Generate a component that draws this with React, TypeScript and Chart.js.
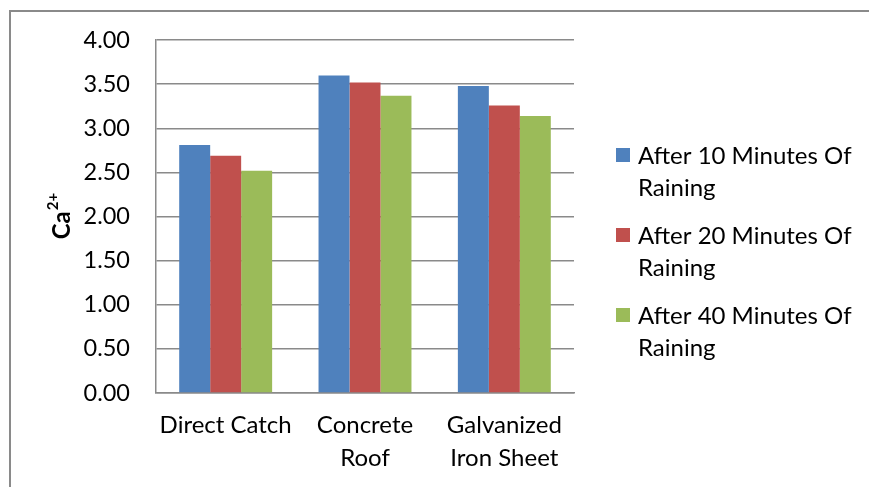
import React, { useEffect, useRef } from "react";
import { Chart, registerables } from "chart.js";

Chart.register(...registerables);

// Roof catchment types (multi-line axis labels)
const categories: string[][] = [["Direct Catch"], ["Concrete", "Roof"], ["Galvanized", "Iron Sheet"]];

// Ca2+ concentration for each sampling time
const seriesNames = ["After 10 Minutes Of Raining", "After 20 Minutes Of Raining", "After 40 Minutes Of Raining"];
const after10Minutes = [2.81, 3.6, 3.48];
const after20Minutes = [2.69, 3.52, 3.26];
const after40Minutes = [2.52, 3.37, 3.14];
const seriesColors = ["#4F81BD", "#C0504D", "#9BBB59"];

// Value axis
const yMin = 0;
const yMax = 4;
const yStep = 0.5;

const FONT = "Lato, 'Noto Sans', sans-serif";
const GRID = "#8a8a8a";

const wrapText = (ctx: CanvasRenderingContext2D, text: string, maxWidth: number) => {
  const words = text.split(" ");
  const lines: string[] = [];
  let line = "";
  for (const w of words) {
    const test = line ? line + " " + w : w;
    if (ctx.measureText(test).width > maxWidth && line) {
      lines.push(line);
      line = w;
    } else {
      line = test;
    }
  }
  if (line) lines.push(line);
  return lines;
};

// Draws the rotated "Ca2+" title and the wrapped legend on the right
const decorations = {
  id: "decorations",
  afterDraw(chart: any) {
    const { ctx, chartArea } = chart;
    ctx.save();

    // Axis title with superscript charge
    ctx.fillStyle = "#000";
    ctx.translate(chartArea.left - 95, (chartArea.top + chartArea.bottom) / 2);
    ctx.rotate(-Math.PI / 2);
    ctx.textBaseline = "alphabetic";
    ctx.font = `bold 24px ${FONT}`;
    const base = "Ca";
    const sup = "2+";
    const wBase = ctx.measureText(base).width;
    ctx.font = `bold 15px ${FONT}`;
    const wSup = ctx.measureText(sup).width;
    const total = wBase + wSup;
    ctx.font = `bold 24px ${FONT}`;
    ctx.fillText(base, -total / 2, 9);
    ctx.font = `bold 15px ${FONT}`;
    ctx.fillText(sup, -total / 2 + wBase + 1, -3);
    ctx.restore();

    // Legend
    ctx.save();
    ctx.font = `24px ${FONT}`;
    ctx.textBaseline = "middle";
    const boxX = chartArea.right + 42;
    const textX = boxX + 22;
    let y = 155;
    chart.data.datasets.forEach((ds: any) => {
      ctx.fillStyle = ds.backgroundColor;
      ctx.fillRect(boxX, y - 7, 14, 14);
      ctx.fillStyle = "#000";
      const lines = wrapText(ctx, ds.label, 869 - textX - 4);
      lines.forEach((ln, j) => ctx.fillText(ln, textX, y + 1 + j * 32));
      y += 80;
    });
    ctx.restore();
  },
};

export default function App() {
  const canvasRef = useRef<HTMLCanvasElement | null>(null);

  useEffect(() => {
    if (!canvasRef.current) return;
    Chart.defaults.font.family = FONT;
    const chart = new Chart(canvasRef.current, {
      type: "bar",
      data: {
        labels: categories,
        datasets: [after10Minutes, after20Minutes, after40Minutes].map((values, i) => ({
          label: seriesNames[i],
          data: values,
          backgroundColor: seriesColors[i],
          borderWidth: 0,
          categoryPercentage: 0.667,
          barPercentage: 1,
        })),
      },
      options: {
        responsive: false,
        animation: false,
        layout: { padding: { left: 0, top: 40, right: 295, bottom: 0 } },
        plugins: {
          legend: { display: false },
          tooltip: { enabled: false },
        },
        scales: {
          x: {
            grid: { display: false, drawTicks: false },
            border: { display: true, color: GRID, width: 1.5 },
            ticks: { color: "#000", font: { size: 24, lineHeight: 1.375 }, padding: 16, maxRotation: 0 },
            afterFit: (scale: any) => {
              scale.height = 94;
            },
          },
          y: {
            min: yMin,
            max: yMax,
            grid: { color: GRID, lineWidth: 1.5, drawTicks: false },
            border: { display: true, color: GRID, width: 1.5 },
            ticks: {
              stepSize: yStep,
              color: "#000",
              font: { size: 23.5 },
              padding: 26,
              callback: (v: any) => Number(v).toFixed(2),
            },
            afterFit: (scale: any) => {
              scale.width = 156;
            },
          },
        },
      },
      plugins: [decorations],
    });
    return () => chart.destroy();
  }, []);

  return (
    <div
      style={{
        position: "absolute",
        left: 0,
        top: 0,
        width: 869,
        height: 487,
        overflow: "hidden",
        background: "#fff",
      }}
    >
      <div
        style={{
          position: "absolute",
          left: 9,
          top: 10,
          width: 900,
          height: 600,
          borderLeft: `2px solid ${GRID}`,
          borderTop: `2px solid ${GRID}`,
        }}
      />
      <canvas ref={canvasRef} width={869} height={487} style={{ position: "absolute", left: 0, top: 0 }} />
    </div>
  );
}
